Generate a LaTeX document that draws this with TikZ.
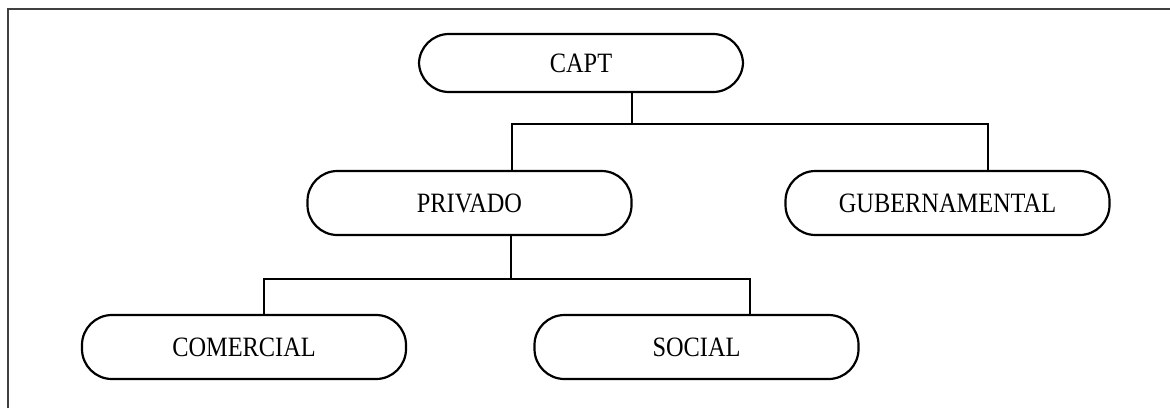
\documentclass[tikz,border=0pt]{standalone}
\usepackage{fontspec}
\setmainfont{Liberation Serif}[FakeStretch=0.87]
\begin{document}
\begin{tikzpicture}[x=0.5pt,y=-0.5pt,
  main/.style = {draw, line width=1.1pt, rounded corners=15pt, minimum width=162pt, minimum height=32pt, inner sep=0pt, font=\fontsize{14}{16}\selectfont},
  conn/.style = {line width=1.2pt}]
  \useasboundingbox (0,0) rectangle (1170,408);
  \draw[line width=1pt, black!75] (8,408) -- (8,9) -- (1170,9);
  \node[main, minimum height=29pt] (capt) at (581,63) {CAPT};
  \node[main] (priv) at (469.5,203) {PRIVADO};
  \node[main] (gub) at (947.5,203) {GUBERNAMENTAL};
  \node[main] (com) at (244,347) {COMERCIAL};
  \node[main] (soc) at (696.5,347) {SOCIAL};
  \coordinate (j1) at (632,124);
  \coordinate (j2) at (511,279);
  \draw[conn] (capt.south -| j1) -- (j1);
  \draw[conn] ([xshift=21.25pt]priv.north) |- (j1) -| ([xshift=20.25pt]gub.north);
  \draw[conn] (priv.south -| j2) -- (j2);
  \draw[conn] ([xshift=10pt]com.north) |- (j2) -| ([xshift=26.75pt]soc.north);
\end{tikzpicture}
\end{document}
